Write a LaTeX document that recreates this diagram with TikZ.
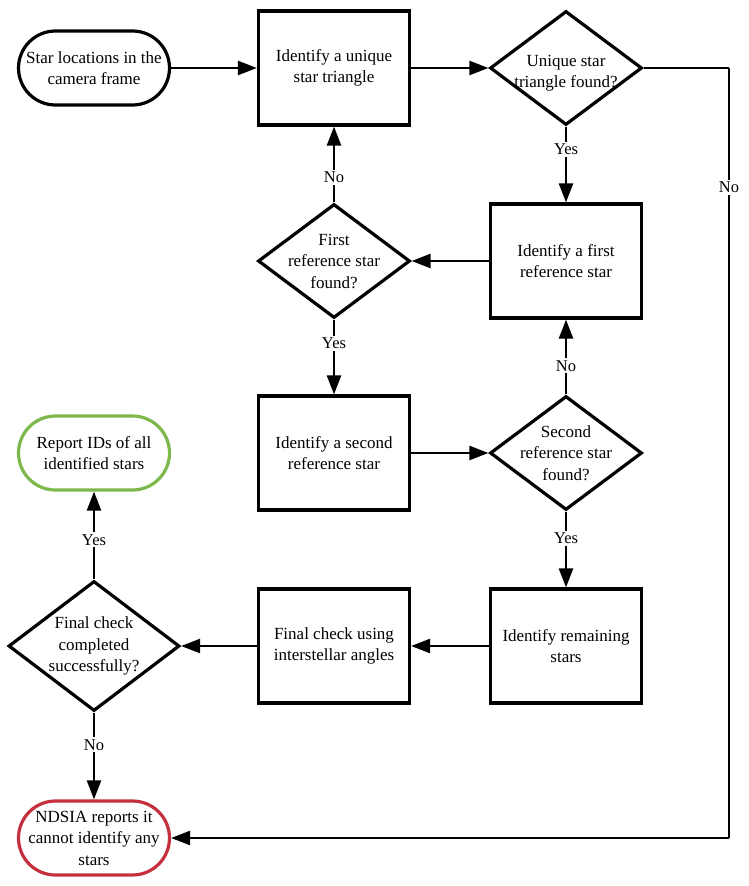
\documentclass[tikz,border=0pt]{standalone}
\usepackage{fontspec}
\setmainfont{Liberation Serif}
\usetikzlibrary{shapes.geometric,arrows.meta}
\definecolor{okgreen}{HTML}{7DB84C}
\definecolor{badred}{HTML}{C4303E}
\begin{document}
\begin{tikzpicture}[x=1pt,y=-1pt,
  every node/.style={font=\fontsize{17}{21.5}\selectfont},
  procbox/.style={draw, line width=3.2pt, minimum width=151pt, minimum height=114pt, inner sep=0pt, align=center},
  decision/.style={draw, diamond, line width=3.2pt, minimum width=152pt, minimum height=114pt, inner sep=0pt},
  terminal/.style={draw, line width=3.2pt, rounded corners=37pt, minimum width=151pt, minimum height=74pt, inner sep=0pt, align=center},
  conn/.style={line width=2.4pt, -{Triangle[length=19pt,width=14pt]}},
  plain/.style={line width=2.2pt},
  lbl/.style={fill=white, inner sep=2pt, font=\fontsize{16.5}{19}\selectfont}
]
\useasboundingbox (0,0) rectangle (748,886);

\node[terminal] (start) at (94,68) {Star locations in the\\camera frame};
\node[procbox] (b1) at (334,68) {Identify a unique\\star triangle};
\node[decision, label={[align=center, yshift=-5pt]center:Unique star\\triangle found?}] (d1) at (566,68) {};
\node[procbox] (b2) at (566,261) {Identify a first\\reference star};
\node[decision, label={[align=center]center:First\\reference star\\found?}] (d2) at (334,261) {};
\node[procbox] (b3) at (334,453) {Identify a second\\reference star};
\node[decision, label={[align=center]center:Second\\reference star\\found?}] (d3) at (566,453) {};
\node[procbox] (b4) at (566,646) {Identify remaining\\stars};
\node[procbox] (b5) at (334,646) {Final check using\\interstellar angles};
\node[decision, minimum width=171pt, minimum height=130pt, label={[align=center]center:Final check\\completed\\successfully?}] (d4) at (94,646) {};
\node[terminal, draw=okgreen] (ok) at (94,453) {Report IDs of all\\identified stars};
\node[terminal, draw=badred] (fail) at (94,838) {NDSIA reports it\\cannot identify any\\stars};

\coordinate (c1) at (729,68);
\coordinate (c2) at (729,838);

\draw[conn] (start) -- (b1);
\draw[conn] (b1) -- (d1);
\draw[conn] (d1.south) -- node[lbl, pos=0.3] {Yes} (b2.north);
\draw[conn] (b2) -- (d2);
\draw[conn] (d2.north) -- node[lbl, pos=0.33] {No} (b1.south);
\draw[conn] (d2.south) -- node[lbl, pos=0.32] {Yes} (b3.north);
\draw[conn] (b3) -- (d3);
\draw[conn] (d3.north) -- node[lbl, pos=0.38] {No} (b2.south);
\draw[conn] (d3.south) -- node[lbl, pos=0.35] {Yes} (b4.north);
\draw[conn] (b4) -- (b5);
\draw[conn] (b5) -- (d4);
\draw[conn] (d4.north) -- node[lbl, pos=0.45] {Yes} (ok.south);
\draw[conn] (d4.south) -- node[lbl, pos=0.37] {No} (fail.north);
\draw[plain] (d1.east) -- (c1);
\draw[plain] (c1) -- node[lbl, pos=0.155] {No} (c2);
\draw[conn] (c2) -- (fail.east);
\end{tikzpicture}
\end{document}
